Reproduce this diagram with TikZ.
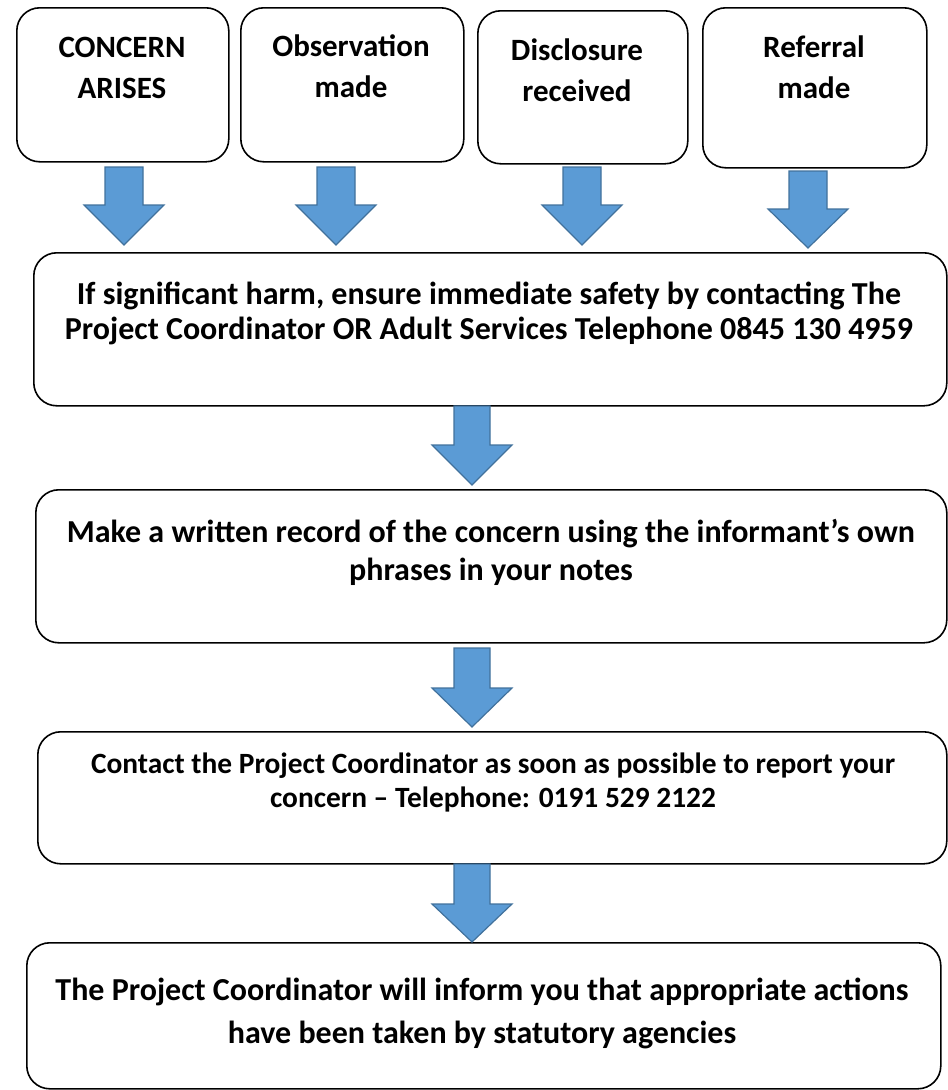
\documentclass[tikz,border=0pt]{standalone}
\usepackage{fontspec}
\setmainfont{Carlito}
\definecolor{arrowfill}{HTML}{5B9BD5}
\definecolor{arrowline}{HTML}{41719C}
\newcommand{\blockarr}[6]{%
  \filldraw[arr] (#1-#5,#2) -- (#1+#5,#2) -- (#1+#5,#3) -- (#1+#6,#3) -- (#1,#4) -- (#1-#6,#3) -- (#1-#5,#3) -- cycle;}
\begin{document}
\begin{tikzpicture}[x=1pt,y=-1pt,
  box/.style={draw=black, line width=1.6pt, rounded corners=23pt, anchor=north west, inner sep=0pt},
  arr/.style={fill=arrowfill, draw=arrowline, line width=1.2pt, line join=miter},
  lbl/.style={inner sep=0pt, align=center, anchor=north},
  small/.style={lbl, font=\bfseries\fontsize{31}{41}\selectfont}]
\useasboundingbox (0,0) rectangle (948,1090);
% top boxes
\node[box, minimum width=212pt, minimum height=154pt] (s1) at (16,7) {};
\node[box, minimum width=223pt, minimum height=154pt] (s2) at (240,7) {};
\node[box, minimum width=210pt, minimum height=153pt] (s3) at (477,10) {};
\node[box, minimum width=224pt, minimum height=160pt] (s4) at (702,7) {};
\node[small] (t1) at (122,37) {CONCERN\\ARISES};
\node[small] (t2) at (351,35) {Observation\\made};
\node[small] (t3) at (577,39) {Disclosure\\received};
\node[small] (t4) at (814,36) {Referral\\made};
% main boxes
\node[box, minimum width=913pt, minimum height=153pt] (b1) at (33,252) {};
\node[box, minimum width=911pt, minimum height=153pt] (b2) at (35,489) {};
\node[box, minimum width=909pt, minimum height=132pt] (b3) at (37,731) {};
\node[box, minimum width=914pt, minimum height=146pt] (b4) at (26,942) {};
\node[lbl, font=\bfseries\fontsize{32}{35}\selectfont] (tb1) at (489,282) {If significant harm, ensure immediate safety by contacting The\\Project Coordinator OR Adult Services Telephone 0845 130 4959};
\node[lbl, font=\bfseries\fontsize{32}{38}\selectfont] (tb2) at (491,519) {Make a written record of the concern using the informant’s own\\phrases in your notes};
\node[lbl, font=\bfseries\fontsize{29.4}{34}\selectfont] (tb3) at (493,753) {Contact the Project Coordinator as soon as possible to report your\\concern – Telephone: 0191 529 2122};
\node[lbl, font=\bfseries\fontsize{32}{43}\selectfont] (tb4) at (482,978) {The Project Coordinator will inform you that appropriate actions\\have been taken by statutory agencies};
% block arrows
\blockarr{124}{167}{205}{245}{19}{40}
\blockarr{336}{167}{205}{245}{19}{40}
\blockarr{582}{167}{205}{245}{19}{40}
\blockarr{808}{171}{209}{248}{19}{40}
\blockarr{472}{406}{445}{485}{18}{40}
\blockarr{472}{648}{688}{727}{18}{40}
\blockarr{472}{864}{904}{942}{18}{40}
\end{tikzpicture}
\end{document}
